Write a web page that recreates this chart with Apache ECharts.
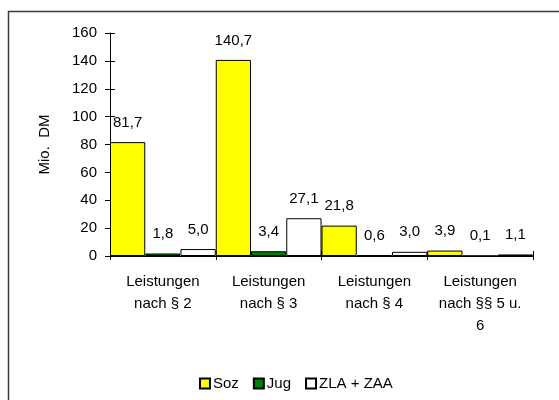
<!DOCTYPE html>
<html>
<head>
<meta charset="utf-8">
<script src="https://cdn.jsdelivr.net/npm/echarts@6/dist/echarts.min.js"></script>
<style>
  html, body { margin: 0; padding: 0; background: #fff; }
  #chart { width: 559px; height: 400px; }
</style>
</head>
<body>
<div id="chart"></div>
<script>
// Expenditure by category, in million DM
const categories = [
  'Leistungen\nnach § 2',
  'Leistungen\nnach § 3',
  'Leistungen\nnach § 4',
  'Leistungen\nnach §§ 5 u.\n6'
];
const seriesNames = ['Soz', 'Jug', 'ZLA + ZAA'];
const soz = [81.7, 140.7, 21.8, 3.9];
const jug = [1.8, 3.4, 0.6, 0.1];
const zla = [5.0, 27.1, 3.0, 1.1];
const yTicks = { min: 0, max: 160, interval: 20 };

const FONT = "'Liberation Sans', Arial, sans-serif";
const FS = 15;
const colors = ['#FFFF00', '#008000', '#FFFFFF'];

function barSeries(name, data, color) {
  return {
    name: name,
    type: 'bar',
    data: data,
    barGap: '0%',
    barCategoryGap: '0%',
    itemStyle: { color: color, borderColor: '#000', borderWidth: 1 },
    label: {
      show: true,
      position: 'top',
      distance: 12,
      color: '#000',
      fontFamily: FONT,
      fontSize: FS,
      formatter: p => p.value.toFixed(1).replace('.', ',')
    }
  };
}

const chart = echarts.init(document.getElementById('chart'), null, { renderer: 'canvas' });

const axisLine = { show: true, lineStyle: { color: '#000', width: 1 } };

chart.setOption({
  animation: false,
  backgroundColor: '#fff',
  textStyle: { fontFamily: FONT },
  graphic: [{
    type: 'rect',
    shape: { x: 8.5, y: 11.5, width: 600, height: 420 },
    style: { fill: 'none', stroke: '#3a3a3a', lineWidth: 1.5 },
    silent: true
  }],
  legend: {
    data: seriesNames,
    bottom: 4,
    left: 194,
    itemWidth: 10,
    itemHeight: 10,
    itemGap: 14,
    icon: 'rect',
    textStyle: { color: '#000', fontSize: FS, fontFamily: FONT, padding: [0, 0, 0, -2] }
  },
  grid: { left: 110, right: 26, top: 33, bottom: 144, containLabel: false },
  xAxis: [{
    type: 'category',
    data: categories,
    axisLine: axisLine,
    axisTick: { show: true, inside: false, length: 4, lineStyle: { color: '#000' } },
    axisLabel: {
      color: '#000', fontSize: FS, fontFamily: FONT,
      lineHeight: 22, margin: 15, interval: 0
    }
  }, {
    type: 'category',
    data: categories,
    position: 'bottom',
    axisLine: { show: false },
    axisTick: { show: true, inside: true, length: 5, lineStyle: { color: '#000' } },
    axisLabel: { show: false }
  }],
  yAxis: [{
    type: 'value',
    min: yTicks.min, max: yTicks.max, interval: yTicks.interval,
    name: 'Mio.  DM',
    nameLocation: 'middle',
    nameGap: 58,
    nameTextStyle: { color: '#000', fontSize: FS, fontFamily: FONT },
    axisLine: axisLine,
    axisTick: { show: true, inside: false, length: 5, lineStyle: { color: '#000' } },
    axisLabel: { color: '#000', fontSize: FS, fontFamily: FONT, margin: 13 },
    splitLine: { show: false }
  }, {
    type: 'value',
    min: yTicks.min, max: yTicks.max, interval: yTicks.interval,
    position: 'left',
    axisLine: { show: false },
    axisTick: { show: true, inside: true, length: 5, lineStyle: { color: '#000' } },
    axisLabel: { show: false },
    splitLine: { show: false }
  }],
  series: [
    barSeries(seriesNames[0], soz, colors[0]),
    barSeries(seriesNames[1], jug, colors[1]),
    barSeries(seriesNames[2], zla, colors[2])
  ]
});
</script>
</body>
</html>
